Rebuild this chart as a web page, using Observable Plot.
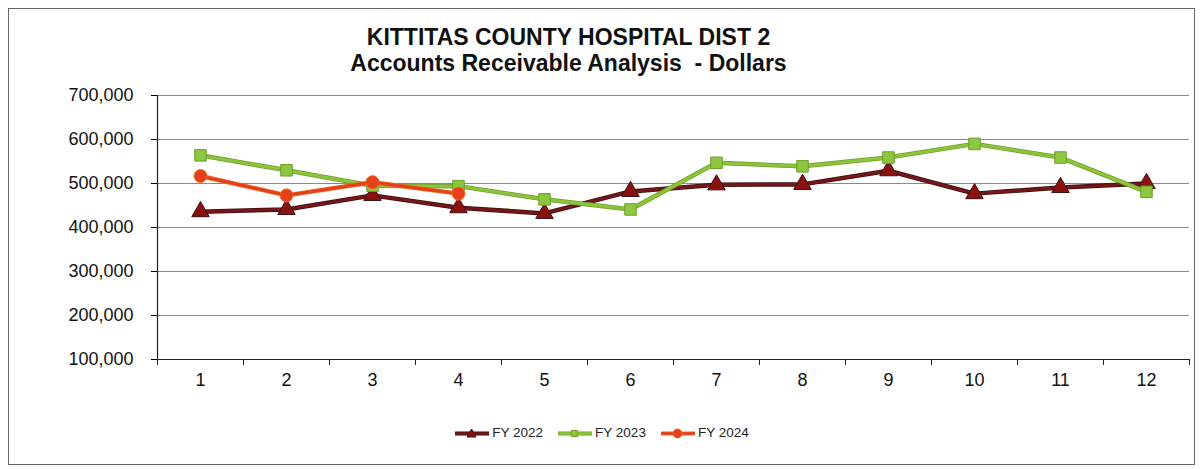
<!DOCTYPE html>
<html>
<head>
<meta charset="utf-8">
<script src="https://cdn.jsdelivr.net/npm/d3@7"></script>
<script src="https://cdn.jsdelivr.net/npm/@observablehq/plot@0.6"></script>
<style>
  html, body { margin: 0; padding: 0; background: #fff; }
  #frame { position: absolute; left: 8px; top: 8px; width: 1187px; height: 457px; border: 1px solid #666; box-sizing: border-box; }
  .title { position: absolute; left: 0; width: 1137px; text-align: center; font-family: "Liberation Sans", Arial, sans-serif; font-weight: bold; font-size: 23px; color: #111; line-height: 26px; }
  #chart { position: absolute; left: 0; top: 80px; }
  #legend { position: absolute; top: 425px; left: 0; width: 1203px; display: flex; justify-content: center; gap: 14px; font-family: "Liberation Sans", Arial, sans-serif; font-size: 13.5px; color: #222; }
  #legend .item { display: flex; align-items: center; gap: 2px; }
</style>
</head>
<body>
<div id="frame"></div>
<div class="title" style="top:24px">KITTITAS COUNTY HOSPITAL DIST 2</div>
<div class="title" style="top:50px">Accounts Receivable Analysis&nbsp; - Dollars</div>
<div id="chart"></div>
<div id="legend"></div>
<script>
const months = [1, 2, 3, 4, 5, 6, 7, 8, 9, 10, 11, 12];
const fy2022 = [436000, 441000, 473000, 445000, 432000, 482000, 497000, 498000, 529000, 477000, 491000, 500000];
const fy2023 = [564000, 530000, 495000, 494000, 464000, 441000, 547000, 539000, 559000, 590000, 559000, 481000];
const fy2024 = [517000, 473000, 503000, 477000];
const yTicks = [100000, 200000, 300000, 400000, 500000, 600000, 700000];
const seriesNames = ["FY 2022", "FY 2023", "FY 2024"];

const styles = {
  "FY 2022": {line: "#761619", edge: "#3a1010", fill: "#8b1010", symbol: "triangle", r: 6.5},
  "FY 2023": {line: "#8cc43c", edge: "#6f9e2a", fill: "#8dc63f", symbol: "square", r: 6.5},
  "FY 2024": {line: "#e5401d", edge: "#ee6a20", fill: "#e6401b", symbol: "circle", r: 6.5}
};

const rows = [];
[fy2022, fy2023, fy2024].forEach((vals, s) => {
  vals.forEach((v, i) => rows.push({series: seriesNames[s], month: months[i], value: v}));
});

const font = "Liberation Sans, Arial, sans-serif";
const marks = [
  Plot.ruleY(yTicks.filter(d => d > 100000), {stroke: "#8a8a8a", strokeWidth: 1}),
  Plot.axisY({ticks: yTicks, tickFormat: d3.format(","), tickSize: 6, tickPadding: 18, fontSize: 18, fill: "#111", label: null, fontFamily: font}),
  Plot.axisX({ticks: months, tickSize: 0, tickPadding: 14, fontSize: 18, fill: "#111", label: null, fontFamily: font}),
  Plot.axisX({ticks: d3.range(0.5, 13, 1), tickSize: 6, tickFormat: () => "", stroke: "#222", label: null}),
  Plot.ruleY([100000], {stroke: "#222", strokeWidth: 1.2}),
  Plot.ruleX([0.5], {y1: 100000, y2: 700000, stroke: "#222", strokeWidth: 1.2})
];

for (const name of seriesNames) {
  const st = styles[name];
  const data = rows.filter(d => d.series === name);
  marks.push(Plot.line(data, {x: "month", y: "value", stroke: st.edge, strokeWidth: 4.5}));
  marks.push(Plot.line(data, {x: "month", y: "value", stroke: st.line, strokeWidth: 3}));
  marks.push(Plot.dot(data, {x: "month", y: "value", symbol: () => st.symbol, r: st.r, fill: st.fill, stroke: st.edge, strokeWidth: 1}));
}

const chart = Plot.plot({
  width: 1203,
  height: 319,
  marginLeft: 157,
  marginRight: 14,
  marginTop: 15,
  marginBottom: 40,
  x: {type: "linear", domain: [0.5, 12.5]},
  y: {domain: [100000, 700000]},
  style: {background: "transparent", overflow: "visible"},
  marks
});
document.getElementById("chart").appendChild(chart);

// legend
const legend = document.getElementById("legend");
for (const name of seriesNames) {
  const st = styles[name];
  const item = document.createElement("div");
  item.className = "item";
  let sym;
  if (st.symbol === "triangle") sym = `<path d="M17.5,3 L22,11 L13,11 Z" fill="${st.fill}" stroke="${st.edge}"/>`;
  else if (st.symbol === "square") sym = `<rect x="14.5" y="4.5" width="6" height="6" fill="${st.fill}" stroke="${st.edge}"/>`;
  else sym = `<circle cx="17.5" cy="7.5" r="4.5" fill="${st.fill}" stroke="${st.edge}"/>`;
  item.innerHTML = `<svg width="36" height="14"><line x1="1" y1="7.5" x2="35" y2="7.5" stroke="${st.edge}" stroke-width="4"/><line x1="1" y1="7.5" x2="35" y2="7.5" stroke="${st.line}" stroke-width="2.5"/>${sym}</svg><span>${name}</span>`;
  legend.appendChild(item);
}
</script>
</body>
</html>
